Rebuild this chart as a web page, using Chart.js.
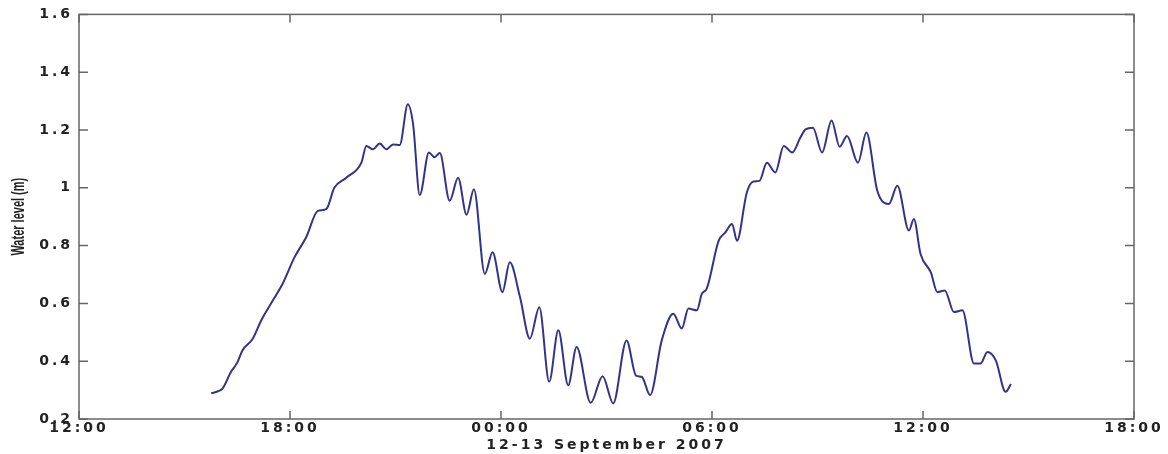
<!DOCTYPE html>
<html>
<head>
<meta charset="utf-8">
<title>Water level, 12-13 September 2007</title>
<script src="https://cdn.jsdelivr.net/npm/chart.js@4.4.1/dist/chart.umd.min.js"></script>
<style>
  html, body { margin: 0; padding: 0; background: #fff; }
  #wrap { width: 1168px; height: 454px; }
</style>
</head>
<body>
<div id="wrap"><canvas id="levelChart" width="1168" height="454"></canvas></div>
<script>
// hours counted from 12:00 on 12 September
const hours = [
    3.76, 3.95, 4.08, 4.32, 4.50, 4.65, 4.94, 5.18, 5.51, 5.79, 6.13, 6.46,
    6.79, 7.03, 7.26, 7.60, 8.03, 8.17, 8.36, 8.55, 8.74, 8.93,
    9.12, 9.35, 9.50, 9.69, 9.95, 10.11, 10.26, 10.54, 10.78, 11.02,
    11.23, 11.54, 11.76, 12.04, 12.25, 12.54, 12.82, 13.09, 13.37, 13.63,
    13.91, 14.15, 14.55, 14.89, 15.19, 15.57, 15.84, 16.00, 16.24, 16.57,
    16.90, 17.14, 17.33, 17.57, 17.71, 17.85, 18.19, 18.38, 18.57, 18.71,
    18.99, 19.18, 19.35, 19.56, 19.80, 20.04, 20.28, 20.51, 20.66, 20.87,
    21.13, 21.40, 21.63, 21.84, 22.15, 22.39, 22.70, 23.03, 23.27, 23.60,
    23.74, 23.93, 24.22, 24.41, 24.62, 24.88, 25.12, 25.45, 25.64, 25.83,
    26.07, 26.35, 26.50
];
const waterLevel = [
    0.289, 0.296, 0.305, 0.363, 0.395, 0.438, 0.478, 0.541, 0.610, 0.668, 0.760, 0.829,
    0.920, 0.926, 1.000, 1.035, 1.087, 1.145, 1.133, 1.153, 1.133, 1.150,
    1.148, 1.289, 1.220, 0.975, 1.122, 1.106, 1.120, 0.955, 1.035, 0.907,
    0.995, 0.702, 0.777, 0.639, 0.742, 0.622, 0.478, 0.587, 0.329, 0.507,
    0.317, 0.449, 0.256, 0.348, 0.254, 0.472, 0.350, 0.346, 0.283, 0.472,
    0.564, 0.513, 0.582, 0.576, 0.633, 0.651, 0.817, 0.846, 0.875, 0.817,
    0.984, 1.022, 1.024, 1.087, 1.053, 1.145, 1.122, 1.173, 1.202, 1.208,
    1.122, 1.233, 1.142, 1.179, 1.087, 1.191, 0.990, 0.944, 1.007, 0.852,
    0.892, 0.771, 0.708, 0.639, 0.645, 0.570, 0.576, 0.392, 0.392, 0.432,
    0.403, 0.294, 0.321
];
const timeLabels = ['12:00', '18:00', '00:00', '06:00', '12:00', '18:00'];
const levelTicks = [0.2, 0.4, 0.6, 0.8, 1, 1.2, 1.4, 1.6];
const xTitle = '12-13 September 2007';
const yTitle = 'Water level (m)';

const tickFont = { family: '"DejaVu Sans", sans-serif', size: 14, weight: 'bold' };

// box round the plot with short inward ticks on all four sides
const boxPlugin = {
    id: 'boxPlugin',
    beforeDraw(chart) {
        chart.ctx.letterSpacing = '3px';
    },
    afterDraw(chart) {
        const { ctx, chartArea: a, scales: { x, y } } = chart;
        ctx.save();
        ctx.strokeStyle = '#666';
        ctx.lineWidth = 1.5;
        ctx.strokeRect(a.left, a.top, a.right - a.left, a.bottom - a.top);
        ctx.beginPath();
        x.ticks.forEach(t => {
            const px = x.getPixelForValue(t.value);
            ctx.moveTo(px, a.bottom); ctx.lineTo(px, a.bottom - 8);
            ctx.moveTo(px, a.top); ctx.lineTo(px, a.top + 8);
        });
        y.ticks.forEach(t => {
            const py = y.getPixelForValue(t.value);
            ctx.moveTo(a.left, py); ctx.lineTo(a.left + 9, py);
            ctx.moveTo(a.right, py); ctx.lineTo(a.right - 9, py);
        });
        ctx.stroke();

        // y title: tall, narrow letters, no extra spacing
        ctx.letterSpacing = '0px';
        ctx.translate(19, (a.top + a.bottom) / 2);
        ctx.rotate(-Math.PI / 2);
        ctx.scale(1, 1.6);
        ctx.font = 'bold 11px "Liberation Sans", Arial, sans-serif';
        ctx.textAlign = 'center';
        ctx.textBaseline = 'middle';
        ctx.fillStyle = '#222';
        ctx.fillText(yTitle, 0, 0);
        ctx.restore();
    }
};

new Chart(document.getElementById('levelChart'), {
    type: 'line',
    data: {
        datasets: [{
            data: hours.map((h, i) => ({ x: h, y: waterLevel[i] })),
            borderColor: '#33338a',
            borderWidth: 2,
            pointRadius: 0,
            cubicInterpolationMode: 'monotone',
            fill: false
        }]
    },
    options: {
        responsive: false,
        animation: false,
        layout: { padding: { top: 13, right: 34, left: 0, bottom: 0 } },
        plugins: {
            legend: { display: false },
            tooltip: { enabled: false }
        },
        scales: {
            x: {
                type: 'linear',
                min: 0,
                max: 30,
                afterBuildTicks: s => { s.ticks = timeLabels.map((_, i) => ({ value: i * 6 })); },
                afterFit: s => { s.height = 35; },
                grid: { display: false, drawTicks: false },
                border: { display: false },
                ticks: {
                    callback: (v, i) => timeLabels[i],
                    autoSkip: false,
                    maxRotation: 0,
                    padding: 1,
                    color: '#222',
                    font: tickFont
                },
                title: {
                    display: true,
                    text: xTitle,
                    color: '#222',
                    font: tickFont,
                    padding: { top: 0, bottom: 0 }
                }
            },
            y: {
                min: 0.2,
                max: 1.6,
                afterBuildTicks: s => { s.ticks = levelTicks.map(v => ({ value: v })); },
                afterFit: s => { s.width = 79; },
                grid: { display: false, drawTicks: false },
                border: { display: false },
                ticks: {
                    callback: v => String(Number(v.toFixed(1))),
                    padding: 6,
                    color: '#222',
                    font: tickFont
                }
            }
        }
    },
    plugins: [boxPlugin]
});
</script>
</body>
</html>
